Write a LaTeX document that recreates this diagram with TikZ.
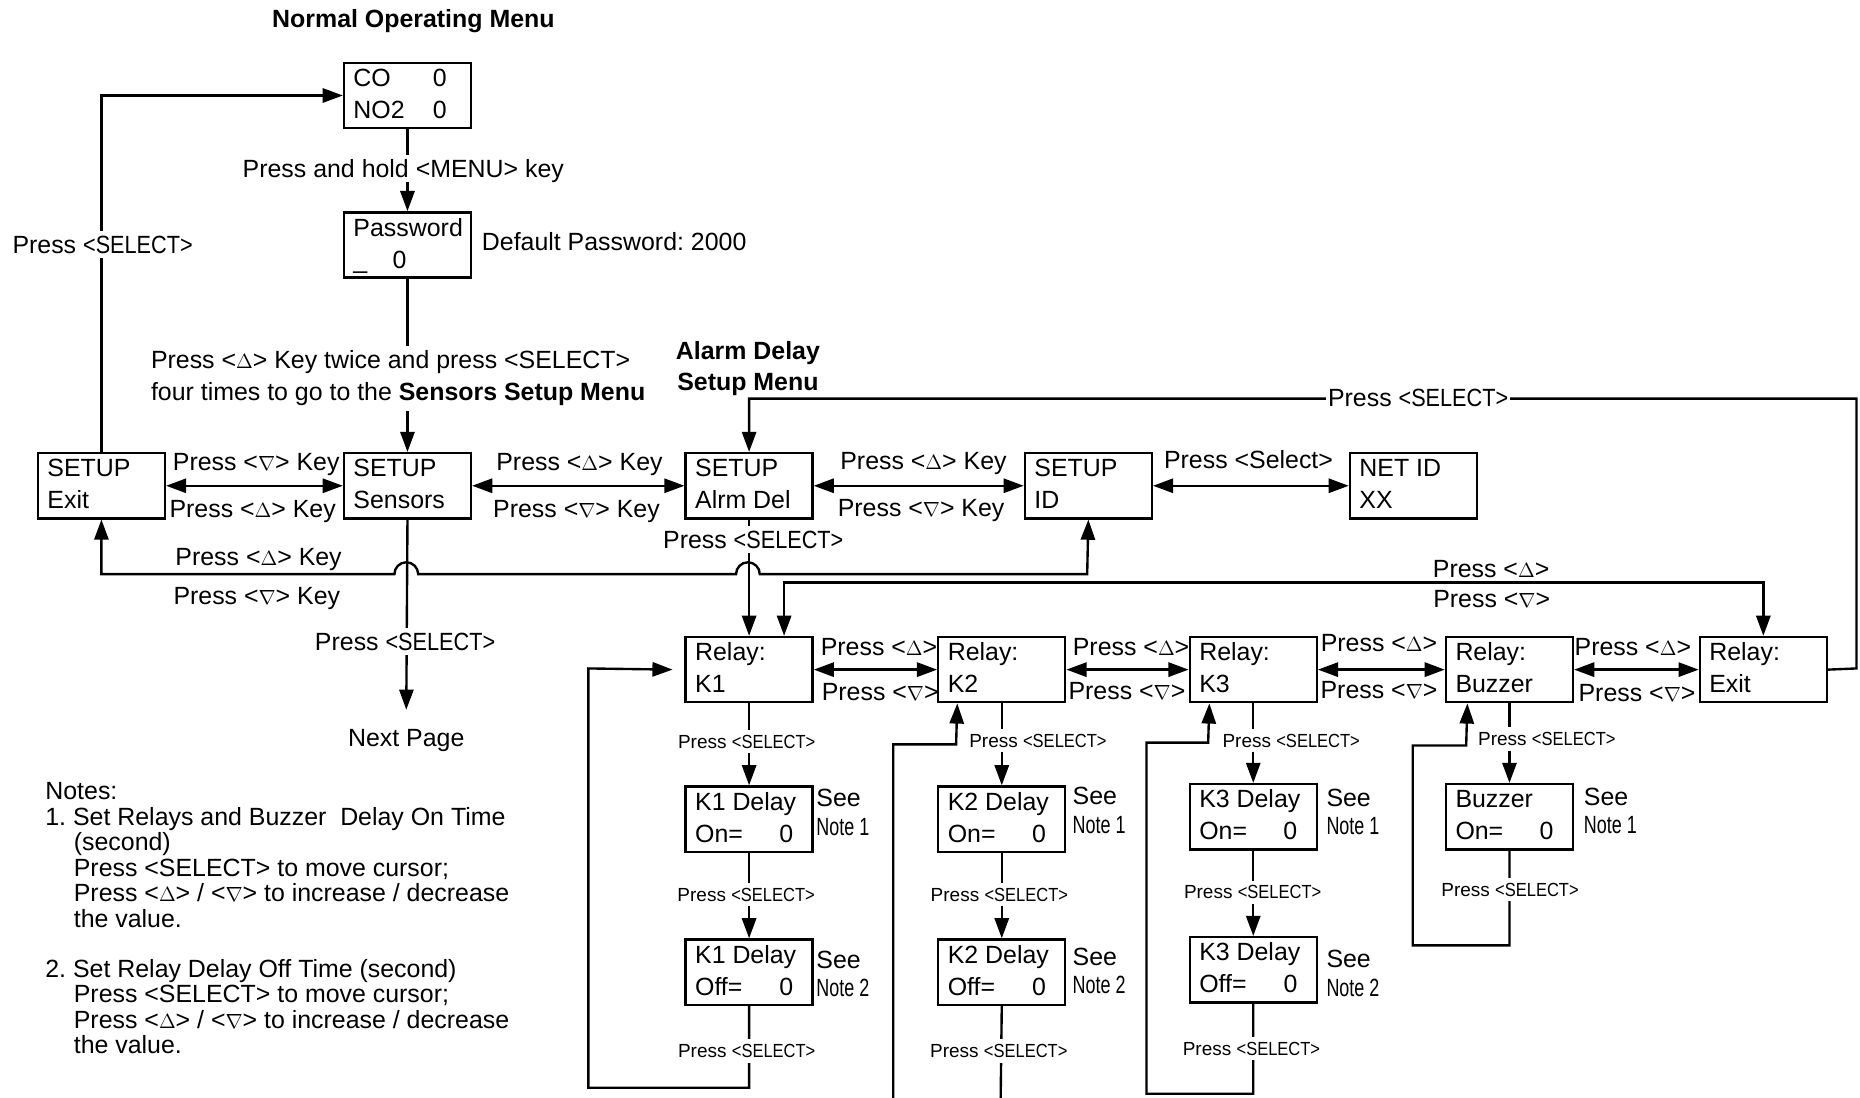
\documentclass[tikz,border=0pt]{standalone}
\usepackage{fontspec}
\setmainfont{Liberation Sans}
\usepackage{graphicx}
\usetikzlibrary{arrows.meta,calc}
\frenchspacing
\newcommand\mainfs{\fontsize{15.75}{20.25}\selectfont}
\newcommand\smallfs{\fontsize{12}{14}\selectfont}
\newcommand\KU{\scalebox{0.9}{$\Delta$}}
\newcommand\KD{\scalebox{0.9}{$\nabla$}}
\newcommand\SEL{\scalebox{0.87}[1]{<SELECT>}}
\newcommand\NoteN[1]{\scalebox{0.72}[1]{Note #1}}
\newcommand\bx[2]{\vbox{\hbox to 68.25pt{\rule{0pt}{15pt}#1\hss}\hbox to 68.25pt{\rule[-6pt]{0pt}{6pt}#2\hss}}}
\tikzset{
  box/.style={draw, line width=1.5pt, inner xsep=6pt, inner ysep=0pt, minimum width=80.25pt, minimum height=41.25pt, anchor=north west, font=\mainfs},
  lb/.style={font=\mainfs, inner xsep=1pt, inner ysep=3pt, text height=11.3pt, text depth=0pt},
  wlb/.style={lb, fill=white},
  slb/.style={font=\smallfs, inner xsep=1pt, inner ysep=3pt, text height=8.6pt, text depth=0pt, fill=white},
  see/.style={font=\fontsize{15.75}{18}\selectfont, align=left, anchor=west, inner sep=0pt},
  conn/.style={line width=1.5pt},
  arr/.style={conn, -{Triangle[length=12.75pt,width=9pt]}},
  darr/.style={conn, {Triangle[length=12.75pt,width=9pt]}-{Triangle[length=12.75pt,width=9pt]}},
}
\begin{document}
\begin{tikzpicture}[x=0.75pt,y=-0.75pt]
\useasboundingbox (0,0) rectangle (1568,925);

% ---------- boxes ----------
\node[box] (co) at (289,52) {\bx{\makebox[50.25pt][l]{CO}0}{\makebox[50.25pt][l]{NO2}0}};
\node[box] (pw) at (289,178) {\bx{Password}{\makebox[24.75pt][l]{\_}0}};
\node[box] (sx) at (31,381) {\bx{SETUP}{Exit}};
\node[box] (ss) at (289,381) {\bx{SETUP}{Sensors}};
\node[box] (sa) at (577,381) {\bx{SETUP}{Alrm Del}};
\node[box] (si) at (863,381) {\bx{SETUP}{ID}};
\node[box] (ni) at (1137,381) {\bx{NET ID}{XX}};
\node[box] (k1) at (577,536) {\bx{Relay:}{K1}};
\node[box] (k2) at (790,536) {\bx{Relay:}{K2}};
\node[box] (k3) at (1002,536) {\bx{Relay:}{K3}};
\node[box] (kb) at (1218,536) {\bx{Relay:}{Buzzer}};
\node[box] (ke) at (1432,536) {\bx{Relay:}{Exit}};
\node[box] (d1on) at (577,662) {\bx{K1 Delay}{\makebox[53.25pt][l]{On=}0}};
\node[box] (d1off) at (577,791) {\bx{K1 Delay}{\makebox[53.25pt][l]{Off=}0}};
\node[box] (d2on) at (790,662) {\bx{K2 Delay}{\makebox[53.25pt][l]{On=}0}};
\node[box] (d2off) at (790,791) {\bx{K2 Delay}{\makebox[53.25pt][l]{Off=}0}};
\node[box] (d3on) at (1002,660) {\bx{K3 Delay}{\makebox[53.25pt][l]{On=}0}};
\node[box] (d3off) at (1002,789) {\bx{K3 Delay}{\makebox[53.25pt][l]{Off=}0}};
\node[box] (dbon) at (1218,660) {\bx{Buzzer}{\makebox[53.25pt][l]{On=}0}};

\node[font=\mainfs, anchor=base, inner sep=0pt] (np) at (342.5,629) {Next Page};
\coordinate (k2out) at (843.5,932);
\coordinate (k2in) at (753,932);

% ---------- connectors ----------
\draw[arr] (sx.north) |- (co.west);
\draw[arr] (co.south) -- (pw.north);
\draw[arr] (pw.south) -- (ss.north);
\draw[arr] (ss.south) -- ([yshift=12pt]np.north);
\draw[darr] (sx.east) -- (ss.west);
\draw[darr] (ss.east) -- (sa.west);
\draw[darr] (sa.east) -- (si.west);
\draw[darr] (si.east) -- (ni.west);
\draw[arr] (ke.east) -- (1565,563.5) -- (1565,336) -| (sa.north);
\draw[arr] (sa.south) -- (k1.north);
\draw[darr] (sx.south) |- (332.5,484) arc[start angle=180,end angle=0,radius=7.5pt]
   -- (620.5,484) arc[start angle=180,end angle=0,radius=7.5pt] -- (916.5,484) -- (si.south);
\draw[darr] ($(k1.north)+(29.5,0)$) -- ++(0,-45) -| (ke.north);

\draw[darr] (k1.east) -- (k2.west);
\draw[darr] (k2.east) -- (k3.west);
\draw[darr] (k3.east) -- (kb.west);
\draw[darr] (kb.east) -- (ke.west);

\draw[arr] (k1.south) -- (d1on.north);
\draw[arr] (d1on.south) -- (d1off.north);
\draw[arr] (d1off.south) |- (496,917) -- (496,563.5) -- ([xshift=-7.5pt]k1.west);

\draw[arr] (k2.south) -- (d2on.north);
\draw[arr] (d2on.south) -- (d2off.north);
\draw[conn] (d2off.south) -- (k2out);
\draw[arr] (k2in) |- (806,627.5) -- ($(k2.south)+(-37.5,0)$);

\draw[arr] (k3.south) -- (d3on.north);
\draw[arr] (d3on.south) -- (d3off.north);
\draw[arr] (d3off.south) |- (966.5,922) |- (1018.5,626) -- ($(k3.south)+(-37,0)$);

\draw[arr] (kb.south) -- (dbon.north);
\draw[arr] (dbon.south) |- (1191,797) |- (1236,628.5) -- ($(kb.south)+(-35.5,0)$);

% ---------- labels ----------
\node[lb, font=\mainfs\bfseries] (t1) at (348.5,16) {Normal Operating Menu};
\node[font=\fontsize{15.75}{19.5}\selectfont\bfseries, align=center, anchor=north, inner sep=0pt] (t2) at (630.5,287.5) {Alarm Delay\\Setup Menu};
\node[lb, anchor=west, inner sep=0pt] (dp) at (406,204) {Default Password: 2000};
\node[wlb] (l1) at (86.5,206) {Press \SEL};
\node[wlb] (l2) at (340,142) {Press and hold <MENU> key};
\node[font=\mainfs, align=left, anchor=north west, inner xsep=1pt, inner ysep=3pt, fill=white] (l3) at (125.7,291.5)
  {Press <\KU> Key twice and press <SELECT>\\four times to go to the \textbf{Sensors Setup Menu}};
\node[wlb] (l4) at (635,455) {Press \SEL};
\node[wlb] (l5) at (341.5,541) {Press \SEL};
\node[wlb] (l6) at (1195.5,335) {Press \SEL};

\node[lb] (a1) at (216,389) {Press <\KD> Key};
\node[lb] (a2) at (213,429) {Press <\KU> Key};
\node[lb] (a3) at (488.5,389) {Press <\KU> Key};
\node[lb] (a4) at (486,429) {Press <\KD> Key};
\node[lb] (a5) at (778.5,388) {Press <\KU> Key};
\node[lb] (a6) at (776.5,428) {Press <\KD> Key};
\node[lb] (a7) at (1052.5,387) {Press <Select>};
\node[lb] (a8) at (218,469) {Press <\KU> Key};
\node[lb] (a9) at (216.5,502) {Press <\KD> Key};
\node[lb] (a10) at (1257,479) {Press <\KU>};
\node[lb] (a11) at (1257.5,505) {Press <\KD>};

\node[lb] (r1) at (741,545) {Press <\KU>};
\node[lb] (r2) at (742,583) {Press <\KD>};
\node[lb] (r3) at (953.5,545) {Press <\KU>};
\node[lb] (r4) at (950,582) {Press <\KD>};
\node[lb] (r5) at (1162.5,542) {Press <\KU>};
\node[lb] (r6) at (1162.5,581) {Press <\KD>};
\node[lb] (r7) at (1376.5,545) {Press <\KU>};
\node[lb] (r8) at (1380,584) {Press <\KD>};

\node[slb] (s1) at (629.5,625) {Press \SEL};
\node[slb] (s2) at (629,754) {Press \SEL};
\node[slb] (s3) at (629.5,886) {Press \SEL};
\node[slb] (s4) at (875,624) {Press \SEL};
\node[slb] (s5) at (842.5,754) {Press \SEL};
\node[slb] (s6) at (842,886) {Press \SEL};
\node[slb] (s7) at (1088.5,624) {Press \SEL};
\node[slb] (s8) at (1056,752) {Press \SEL};
\node[slb] (s9) at (1055,884) {Press \SEL};
\node[slb] (s10) at (1304,623) {Press \SEL};
\node[slb] (s11) at (1273,750) {Press \SEL};

\node[see] (n1) at (688,685) {See\\\NoteN{1}};
\node[see] (n2) at (688,821) {See\\\NoteN{2}};
\node[see] (n3) at (904,683) {See\\\NoteN{1}};
\node[see] (n4) at (904,818.5) {See\\\NoteN{2}};
\node[see] (n5) at (1118,684.5) {See\\\NoteN{1}};
\node[see] (n6) at (1118,820.5) {See\\\NoteN{2}};
\node[see] (n7) at (1335,683.5) {See\\\NoteN{1}};

\node[font=\fontsize{15.75}{16.125}\selectfont, align=left, anchor=north west, inner sep=0pt] (notes) at (38,659.5)
 {Notes:\\
  1.\ Set Relays and Buzzer\ \ Delay On Time\\
  \hspace*{18pt}(second)\\
  \hspace*{18pt}Press <SELECT> to move cursor;\\
  \hspace*{18pt}Press <\KU> / <\KD> to increase / decrease\\
  \hspace*{18pt}the value.\\[15.4pt]
  2.\ Set Relay Delay Off Time (second)\\
  \hspace*{18pt}Press <SELECT> to move cursor;\\
  \hspace*{18pt}Press <\KU> / <\KD> to increase / decrease\\
  \hspace*{18pt}the value.};
\end{tikzpicture}
\end{document}
